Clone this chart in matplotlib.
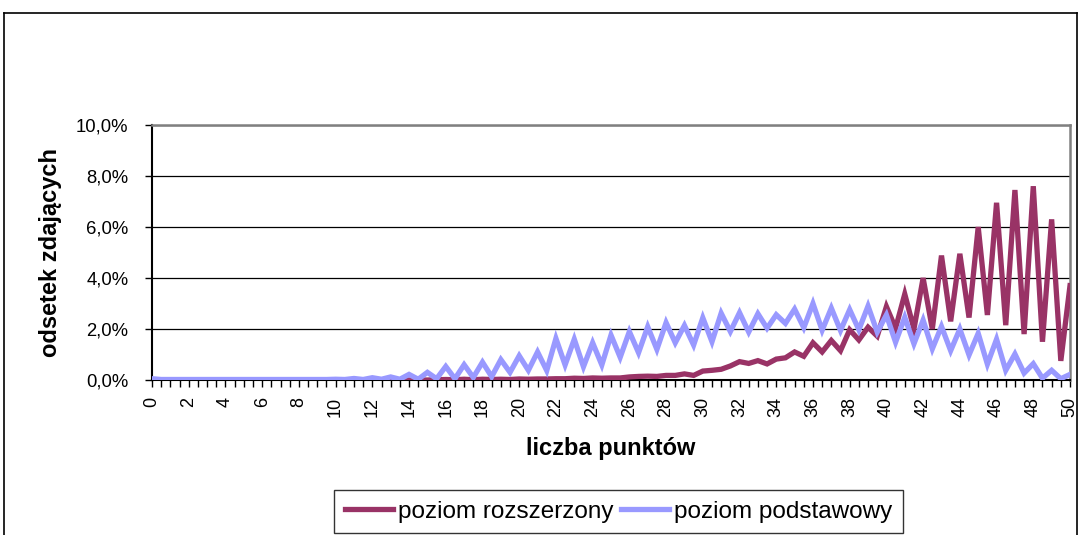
import numpy as np
import matplotlib
matplotlib.use("Agg")
import matplotlib.pyplot as plt
from matplotlib.ticker import FuncFormatter
from matplotlib.lines import Line2D

plt.rcParams['font.family'] = ['Liberation Sans', 'DejaVu Sans']

# ---------- data ----------
# liczba punktów: 0, 0.5, 1, ... 50
punkty = np.arange(0, 50.5, 0.5)

# odsetek zdających [%]
rozszerzony = [
    0.0, 0.0, 0.0, 0.0, 0.0, 0.0, 0.0, 0.0, 0.0, 0.0,        # 0 - 4.5
    0.0, 0.0, 0.0, 0.0, 0.0, 0.0, 0.0, 0.0, 0.0, 0.0,        # 5 - 9.5
    0.0, 0.0, 0.0, 0.0, 0.0, 0.0, 0.0, 0.0, 0.0, 0.0,        # 10 - 14.5
    0.0, 0.01, 0.02, 0.01, 0.03, 0.01, 0.03, 0.02, 0.03, 0.02,  # 15 - 19.5
    0.04, 0.03, 0.04, 0.04, 0.05, 0.05, 0.07, 0.06, 0.08, 0.07,  # 20 - 24.5
    0.08, 0.08, 0.12, 0.14, 0.15, 0.14, 0.18, 0.18, 0.24, 0.18,  # 25 - 29.5
    0.35, 0.38, 0.42, 0.55, 0.72, 0.65, 0.76, 0.63, 0.82, 0.87,  # 30 - 34.5
    1.10, 0.93, 1.46, 1.10, 1.55, 1.15, 1.97, 1.57, 2.07, 1.72,  # 35 - 39.5
    2.88, 2.03, 3.37, 2.00, 4.00, 2.00, 4.88, 2.30, 4.95, 2.45,  # 40 - 44.5
    6.00, 2.55, 6.95, 2.15, 7.45, 1.80, 7.60, 1.50, 6.30, 0.75,  # 45 - 49.5
    3.70,                                                        # 50
]
podstawowy = [
    0.05, 0.02, 0.02, 0.02, 0.02, 0.02, 0.02, 0.02, 0.02, 0.02,  # 0 - 4.5
    0.02, 0.02, 0.02, 0.02, 0.02, 0.02, 0.02, 0.02, 0.02, 0.02,  # 5 - 9.5
    0.03, 0.02, 0.06, 0.02, 0.09, 0.03, 0.12, 0.03, 0.22, 0.03,  # 10 - 14.5
    0.30, 0.05, 0.53, 0.05, 0.60, 0.10, 0.70, 0.13, 0.80, 0.30,  # 15 - 19.5
    0.95, 0.38, 1.10, 0.37, 1.63, 0.59, 1.60, 0.52, 1.46, 0.59,  # 20 - 24.5
    1.76, 0.89, 1.90, 1.07, 2.09, 1.20, 2.25, 1.46, 2.14, 1.37,  # 25 - 29.5
    2.44, 1.50, 2.62, 1.90, 2.64, 1.88, 2.60, 2.03, 2.56, 2.22,  # 30 - 34.5
    2.78, 2.05, 3.00, 1.95, 2.82, 1.94, 2.76, 1.97, 2.90, 1.88,  # 35 - 39.5
    2.55, 1.48, 2.46, 1.42, 2.35, 1.22, 2.10, 1.15, 2.00, 0.98,  # 40 - 44.5
    1.83, 0.62, 1.60, 0.38, 1.02, 0.27, 0.64, 0.07, 0.38, 0.05,  # 45 - 49.5
    0.22,                                                        # 50
]
serie_nazwy = ["poziom rozszerzony", "poziom podstawowy"]
kolory = ["#993366", "#9999FF"]


def pct(v, _pos=None):
    return f"{v:.1f}%".replace(".", ",")


# ---------- figure ----------
W, H = 1079, 535
fig = plt.figure(figsize=(W / 100, H / 100), dpi=100)
ax = fig.add_axes([152 / W, 1 - 380 / H, (1070 - 152) / W, 255 / H])

ax.plot(punkty, rozszerzony, color=kolory[0], lw=3.8, label=serie_nazwy[0],
        solid_joinstyle="miter", zorder=3)
ax.plot(punkty, podstawowy, color=kolory[1], lw=3.8, label=serie_nazwy[1],
        solid_joinstyle="miter", zorder=4)

ax.set_xlim(0, 50)
ax.set_ylim(0, 10)
ax.set_yticks([0, 2, 4, 6, 8, 10])
ax.yaxis.set_major_formatter(FuncFormatter(pct))
ax.grid(axis="y", color="black", lw=0.9)
ax.set_axisbelow(True)

ax.set_xticks(punkty)
ax.set_xticklabels([f"{p:.0f}" if p % 2 == 0 else "" for p in punkty],
                   rotation=90, fontsize=13)
ax.tick_params(axis="x", length=5, width=1, pad=7, direction="out")
ax.tick_params(axis="y", length=5, width=1, pad=12, labelsize=13.3)

for s in ["left", "bottom"]:
    ax.spines[s].set_color("black")
    ax.spines[s].set_linewidth(1.5)
for s in ["top", "right"]:
    ax.spines[s].set_color("#808080")
    ax.spines[s].set_linewidth(1.8)

ax.set_xlabel("liczba punktów", fontsize=17, fontweight="bold")
ax.xaxis.set_label_coords(0.5, -0.225)
ax.set_ylabel("odsetek zdających", fontsize=17, fontweight="bold")
ax.yaxis.set_label_coords(-0.098, 0.5)

leg = fig.legend(loc="center", bbox_to_anchor=(618.5 / W, 23.5 / H), ncol=2,
                 fontsize=17.5, frameon=True, fancybox=False, handlelength=2.0,
                 handletextpad=0.2, columnspacing=0.3, borderpad=0.45,
                 borderaxespad=0)
leg.get_frame().set_edgecolor("black")
leg.get_frame().set_linewidth(1.0)

# outer chart border
for (x0, y0, x1, y1) in [(4, 13, 1077, 13), (4, 13, 4, 540), (1077, 13, 1077, 540)]:
    fig.add_artist(Line2D([x0 / W, x1 / W], [1 - y0 / H, 1 - y1 / H],
                          color="black", lw=1.2, transform=fig.transFigure))

fig.savefig("out.png", dpi=100)
